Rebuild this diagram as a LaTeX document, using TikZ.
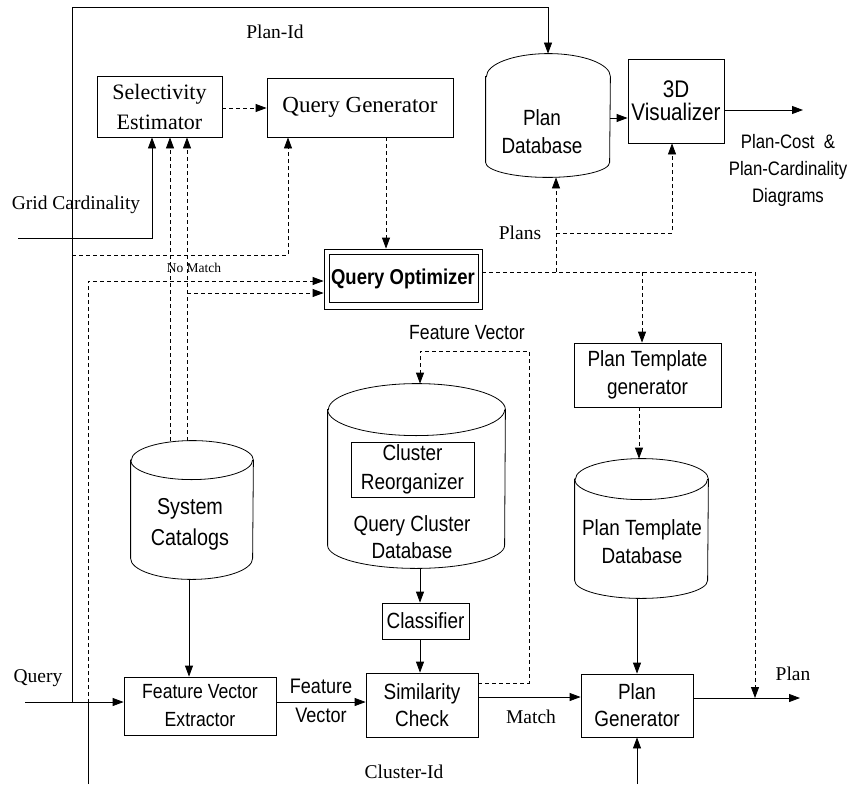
\documentclass[tikz,border=0pt]{standalone}
\usepackage{fontspec}
\setmainfont{Liberation Serif}
\setsansfont{Liberation Sans}[FakeStretch=0.86]
\usetikzlibrary{arrows.meta}
\newcommand\dbcyl[4]{\draw ([yshift=-#3pt]#1.north west) -- ([yshift=#4pt]#1.south west) arc[start angle=180,end angle=360,x radius=#2pt,y radius=#4pt] -- ([yshift=-#3pt]#1.north east) arc[start angle=0,end angle=180,x radius=#2pt,y radius=#3pt] -- cycle;}
\newcommand\dblid[3]{\draw ([yshift=-#3pt]#1.north west) arc[start angle=180,end angle=360,x radius=#2pt,y radius=#3pt];}
\begin{document}
\begin{tikzpicture}[x=1pt,y=-1pt,line width=0.8pt,
 arr/.style={-{Triangle[length=11pt,width=8pt]}},
 dsh/.style={dash pattern=on 4pt off 3pt},
 box/.style={draw,inner sep=0pt,align=center},
 area/.style={inner sep=0pt},
 serif/.style={font=\fontsize{19.5}{24}\selectfont,inner sep=0pt,align=center},
 sans/.style={font=\sffamily\fontsize{22}{28}\selectfont,inner sep=0pt,align=center}]
\useasboundingbox (0,0) rectangle (853,784);

% boxes
\node[box,minimum width=125pt,minimum height=61pt,font=\fontsize{22}{30}\selectfont] (se) at (159.5,106.5) {Selectivity\\Estimator};
\node[box,minimum width=186pt,minimum height=59pt,font=\fontsize{23}{28}\selectfont] (qg) at (360,107.5) {Query Generator};
\node[area,minimum width=124pt,minimum height=123pt] (pdb) at (548,115.5) {};
\dbcyl{pdb}{62}{23}{15}
\node[sans] (pdbt) at (542,132) {Plan\\Database};
\node[box,minimum width=96pt,minimum height=84pt,font=\sffamily\fontsize{24}{23}\selectfont] (viz) at (676,101) {3D\\Visualizer};
\node[sans,font=\sffamily\fontsize{19.5}{27}\selectfont] (diag) at (788,170) {Plan-Cost\ \ \&\\Plan-Cardinality\\Diagrams};

\node[box,minimum width=158pt,minimum height=60pt,font=\sffamily\bfseries\fontsize{21.5}{22}\selectfont] (qo) at (403,279) {Query Optimizer};
\draw ([shift={(6pt,-6pt)}]qo.north west) rectangle ([shift={(-4pt,7pt)}]qo.south east);

\node[box,sans,minimum width=147pt,minimum height=64pt] (ptg) at (647.5,375) {Plan Template\\generator};
\node[area,minimum width=133pt,minimum height=139pt] (ptdb) at (641.5,528.5) {};
\dbcyl{ptdb}{66.5}{20.5}{18}
\dblid{ptdb}{66.5}{20.5}
\node[sans] (ptdbt) at (642,542) {Plan Template\\Database};

\node[area,minimum width=177pt,minimum height=184pt] (qcdb) at (416.5,476) {};
\dbcyl{qcdb}{88.5}{26}{23}
\dblid{qcdb}{88.5}{26}
\node[box,sans,minimum width=123pt,minimum height=55pt,font=\sffamily\fontsize{22}{29}\selectfont] (reorg) at (412.5,469.5) {Cluster\\Reorganizer};
\node[sans,font=\sffamily\fontsize{22}{27}\selectfont] (qcdbt) at (412,537) {Query Cluster\\Database};

\node[box,sans,minimum width=87pt,minimum height=36pt] (cls) at (425.5,621) {Classifier};
\node[box,sans,minimum width=112pt,minimum height=64pt,font=\sffamily\fontsize{22}{27}\selectfont] (simc) at (422,705) {Similarity\\Check};
\node[box,sans,minimum width=152pt,minimum height=58pt,font=\sffamily\fontsize{20.5}{28}\selectfont] (fve) at (200,706) {Feature Vector\\Extractor};
\node[box,sans,minimum width=112pt,minimum height=63pt,font=\sffamily\fontsize{22}{27}\selectfont] (pg) at (637,705.5) {Plan\\Generator};

\node[area,minimum width=122pt,minimum height=138pt] (syscat) at (192,510) {};
\dbcyl{syscat}{61}{19.5}{21}
\dblid{syscat}{61}{19.5}
\node[sans,font=\sffamily\fontsize{23}{31}\selectfont] (syscatt) at (190,524) {System\\Catalogs};

% labels
\node[serif] (lplanid) at (275,32) {Plan-Id};
\node[serif] (lgrid) at (76,205) {Grid Cardinality};
\node[serif,font=\fontsize{13.5}{16}\selectfont] (lnomatch) at (194,268) {No Match};
\node[serif] (lplans) at (520,233) {Plans};
\node[sans,font=\sffamily\fontsize{20.5}{20}\selectfont] (lfv) at (467,333) {Feature Vector};
\node[sans,font=\sffamily\fontsize{21}{29}\selectfont] (lfv2) at (321,701) {Feature\\Vector};
\node[serif] (lquery) at (38,678) {Query};
\node[serif] (lmatch) at (531,717) {Match};
\node[serif] (lplan) at (793,674) {Plan};
\node[serif] (lcid) at (404,772) {Cluster-Id};

% helper coordinates
\coordinate (qin) at (25,702);
\coordinate (pidfoot) at (72,702);
\coordinate (pidtop) at (72,7);
\coordinate (cidfoot) at (88,784);
\coordinate (cidknee) at (88,703);
\coordinate (cidtop) at (88,281);
\coordinate (gridin) at (18,238);
\coordinate (xg) at (152,238);
\coordinate (nmleft) at (72,255);
\coordinate (xa) at (288,255);
\coordinate (xb) at (170,0);
\coordinate (xc) at (187,0);
\coordinate (xc2) at (187,293);
\coordinate (ys) at (0,108);
\coordinate (xq) at (386,0);
\coordinate (yq) at (0,272);
\coordinate (xr) at (755,272);
\coordinate (xp) at (556,272);
\coordinate (xv) at (556,233);
\coordinate (xv2) at (672,233);
\coordinate (xt) at (642,272);
\coordinate (yv) at (0,118);
\coordinate (vizout) at (803,110);
\coordinate (yf) at (0,683);
\coordinate (xf) at (529,351);
\coordinate (xf2) at (420,351);
\coordinate (xs) at (189,0);
\coordinate (ym) at (0,697);
\coordinate (xpt) at (639,0);
\coordinate (planout) at (800,698);
\coordinate (pgin) at (637,784);

% connectors
\draw[arr] (qin) -- (qin -| fve.west);
\draw[arr] (pidfoot) -- (pidtop) -| (pdb.north);
\draw (cidfoot) -- (cidknee);
\draw[dsh,arr] (cidknee) -- (cidtop) -- (cidtop -| qo.west);
\draw[dsh,arr] (nmleft) -- (xa) -- (xa |- qg.south);
\draw[dsh,arr] (xb |- syscat.north) -- (xb |- se.south);
\draw[dsh,arr] (xc |- syscat.north) -- (xc |- se.south);
\draw[dsh,arr] (xc2) -- (xc2 -| qo.west);
\draw[arr] (gridin) -- (xg) -- (xg |- se.south);
\draw[dsh,arr] (se.east |- ys) -- (qg.west |- ys);
\draw[dsh,arr] (xq |- qg.south) -- (xq |- qo.north);
\draw[dsh,arr] (qo.east |- yq) -- (xr) -- (xr |- planout);
\draw[dsh,arr] (xp) -- (xp |- pdb.south);
\draw[dsh,arr] (xv) -- (xv2) -- (xv2 |- viz.south);
\draw[dsh,arr] (xt) -- (xt |- ptg.north);
\draw[arr] (pdb.east |- yv) -- (viz.west |- yv);
\draw[arr] (viz.east |- vizout) -- (vizout);
\draw[dsh,arr] (simc.east |- yf) -- (xf |- yf) -- (xf) -- (xf2) -- (xf2 |- qcdb.north);
\draw[arr] (xf2 |- qcdb.south) -- (xf2 |- cls.north);
\draw[arr] (xf2 |- cls.south) -- (xf2 |- simc.north);
\draw[arr] (xs |- syscat.south) -- (xs |- fve.north);
\draw[arr] (fve.east |- qin) -- (simc.west |- qin);
\draw[arr] (simc.east |- ym) -- (pg.west |- ym);
\draw[dsh,arr] (xpt |- ptg.south) -- (xpt |- ptdb.north);
\draw[arr] (pg.north |- ptdb.south) -- (pg.north);
\draw[arr] (pg.east |- planout) -- (planout);
\draw[arr] (pgin) -- (pg.south);
\end{tikzpicture}
\end{document}
